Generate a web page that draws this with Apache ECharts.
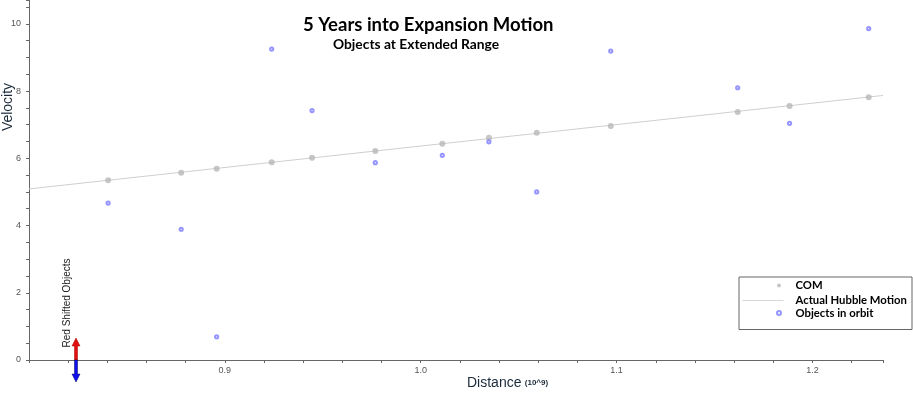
<!DOCTYPE html>
<html><head><meta charset="utf-8">
<script src="https://cdn.jsdelivr.net/npm/echarts@6/dist/echarts.min.js"></script>
<style>html,body{margin:0;padding:0;background:#fff}#c{width:913px;height:394px}</style>
</head><body><div id="c"></div>
<script>
// Distances (10^9) of the centres of mass
const comX = [0.8404, 0.8777, 0.8958, 0.9239, 0.9445, 0.9768, 1.0110, 1.0348, 1.0592, 1.0970, 1.1618, 1.1883, 1.2287];
// Velocity of the centres of mass
const comY = [5.35, 5.57, 5.69, 5.88, 6.02, 6.22, 6.43, 6.61, 6.76, 6.96, 7.38, 7.56, 7.82];
// Velocity of objects in orbit (same distances)
const orbitY = [4.67, 3.89, 0.69, 9.25, 7.42, 5.87, 6.09, 6.49, 5.00, 9.19, 8.10, 7.04, 9.86];
// Actual Hubble motion line end points
const hubbleX = [0.8, 1.236];
const hubbleY = [5.09, 7.87];
// Labelled tick values
const xTickLabels = [0.9, 1.0, 1.1, 1.2];
const yTickLabels = [0, 2, 4, 6, 8, 10];

const chart = echarts.init(document.getElementById('c'));
const F = '"Liberation Sans", Arial, sans-serif';
const T = 'Lato, "Open Sans", sans-serif';

const opt = {
  animation: false,
  title: [
    {text: '5 Years into Expansion Motion', left: 303, top: 16, padding: 0,
     textStyle: {fontFamily: T, fontWeight: 'bold', fontSize: 18.5, color: '#000'}},
    {text: 'Objects at Extended Range', left: 333, top: 38, padding: 0,
     textStyle: {fontFamily: T, fontWeight: 'bold', fontSize: 13.8, color: '#000'}}
  ],
  grid: {left: 29, right: 30, top: 0, bottom: 34},
  xAxis: {
    type: 'value', min: 0.8, max: 1.236, interval: 0.02,
    splitLine: {show: false},
    axisLine: {lineStyle: {color: '#666', width: 1}},
    axisTick: {length: 3, lineStyle: {color: '#666'}},
    axisLabel: {
      color: '#555', fontSize: 9, fontFamily: F, margin: 6,
      formatter: v => xTickLabels.some(t => Math.abs(t - v) < 1e-6) ? v.toFixed(1) : ''
    }
  },
  yAxis: {
    type: 'value', min: 0, max: 10.71, interval: 0.5,
    splitLine: {show: false},
    axisLine: {show: true, lineStyle: {color: '#666', width: 1}},
    axisTick: {show: true, length: 3, lineStyle: {color: '#666'}},
    axisLabel: {
      color: '#555', fontSize: 9, fontFamily: F, margin: 8,
      formatter: v => yTickLabels.some(t => Math.abs(t - v) < 1e-6) ? String(Math.round(v)) : ''
    }
  },
  legend: [
    {data: ['COM', 'Objects in orbit'], orient: 'vertical', left: 776, top: 279.5,
     padding: 0, itemWidth: 5, itemHeight: 4, itemGap: 15.5,
     textStyle: {fontFamily: T, fontWeight: 'bold', fontSize: 11.3, color: '#000', lineHeight: 12, padding: [0, 0, 0, 9]}},
    {data: ['Actual Hubble Motion'], orient: 'vertical', left: 742, top: 294.5,
     padding: 0, itemWidth: 41, itemHeight: 6,
     itemStyle: {opacity: 0},
     lineStyle: {width: 1, color: '#d8d8d8'},
     textStyle: {fontFamily: T, fontWeight: 'bold', fontSize: 11.3, color: '#000', lineHeight: 12, padding: [0, 0, 0, 7]}}
  ],
  series: [
    {name: 'Actual Hubble Motion', type: 'line', symbol: 'none', z: 1,
     lineStyle: {color: '#cfcfcf', width: 1}, itemStyle: {color: '#cfcfcf'},
     data: hubbleX.map((x, i) => [x, hubbleY[i]])},
    {name: 'COM', type: 'scatter', symbol: 'circle', symbolSize: 6, z: 2,
     itemStyle: {color: '#b8b8b8'},
     data: comX.map((x, i) => [x, comY[i]])},
    {name: 'Objects in orbit', type: 'scatter', symbol: 'emptyCircle', symbolSize: 3.2, z: 3,
     itemStyle: {color: '#7a7aff', borderColor: '#7a7aff', borderWidth: 0.8},
     data: comX.map((x, i) => [x, orbitY[i]])}
  ],
  graphic: [
    {type: 'rect', left: 736.5, top: 274.5, shape: {width: 173, height: 52.5},
     style: {fill: 'none', stroke: '#666', lineWidth: 1}, z: 0},
    {type: 'text', x: 8, y: 107, rotation: Math.PI / 2,
     style: {text: 'Velocity', fontFamily: F, fontSize: 14, fill: '#1a2a3a', align: 'center', verticalAlign: 'middle'}},
    {type: 'text', x: 467, y: 383,
     style: {rich: {a: {fontFamily: F, fontSize: 14, fill: '#1a2a3a'}, b: {fontFamily: F, fontSize: 8, fontWeight: 'bold', fill: '#1a2a3a'}},
             text: '{a|Distance} {b|(10^9)}', verticalAlign: 'middle'}},
    {type: 'text', x: 67, y: 303, rotation: Math.PI / 2,
     style: {text: 'Red Shifted Objects', fontFamily: F, fontSize: 10, fill: '#222', align: 'center', verticalAlign: 'middle'}},
    {type: 'polygon', shape: {points: [[74.5, 360], [74.5, 346], [72, 346], [76, 338], [80, 346], [77.5, 346], [77.5, 360]]},
     style: {fill: '#e01010', stroke: '#a00', lineWidth: 0.5}, z: 10},
    {type: 'polygon', shape: {points: [[74.5, 360], [74.5, 374], [72, 374], [76, 382], [80, 374], [77.5, 374], [77.5, 360]]},
     style: {fill: '#1010ee', stroke: '#006', lineWidth: 0.5}, z: 10}
  ]
};
chart.setOption(opt);
</script></body></html>
